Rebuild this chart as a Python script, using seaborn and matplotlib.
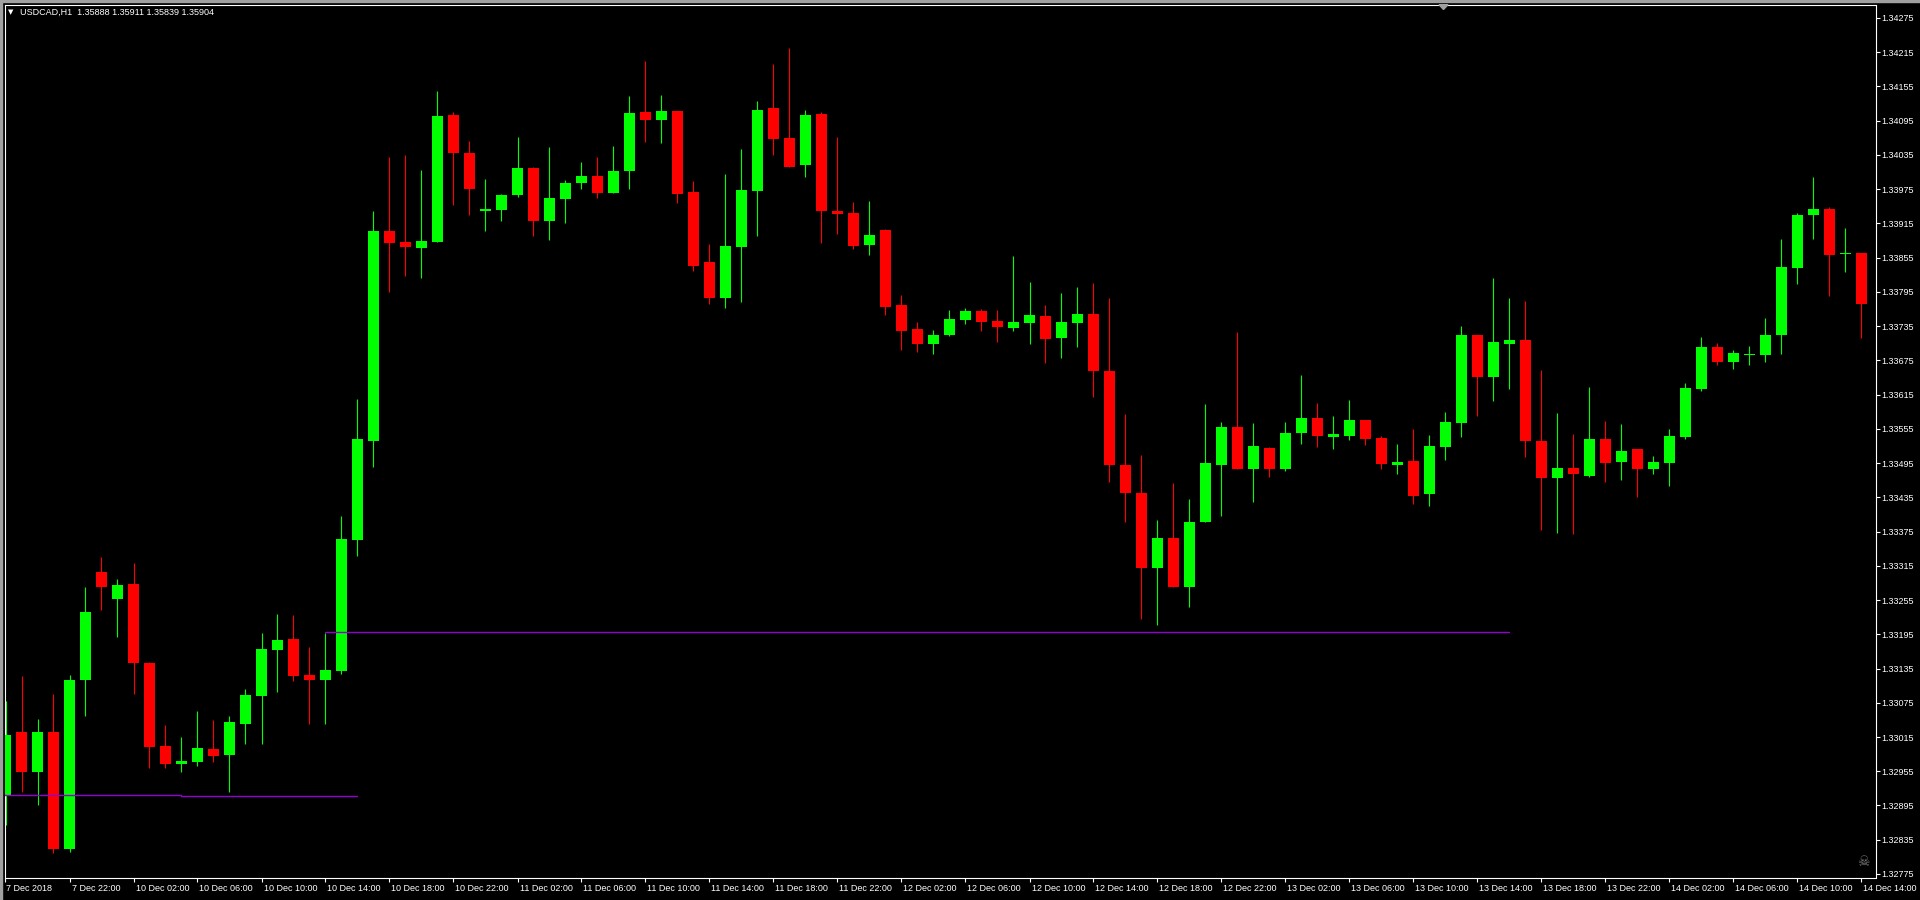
import numpy as np
import pandas as pd
import matplotlib
matplotlib.use("Agg")
import matplotlib.pyplot as plt
import matplotlib.transforms as mtransforms
from matplotlib.patches import Rectangle, Polygon
import seaborn as sns

# USDCAD H1 candles, one per hour from 7 Dec 18:00 to 14 Dec 14:00
opens = [
    1.32913, 1.33024, 1.32953, 1.33024, 1.32818, 1.33115, 1.33304, 1.33257, 1.33283, 1.33145,
    1.32999, 1.32968, 1.32972, 1.32994, 1.32984, 1.33038, 1.33086, 1.33168, 1.33187, 1.33124,
    1.33115, 1.33130, 1.33360, 1.33534, 1.33902, 1.33883, 1.33872, 1.33883, 1.34105, 1.34038,
    1.33937, 1.33939, 1.33965, 1.34012, 1.33920, 1.33958, 1.33985, 1.33998, 1.33969, 1.34006,
    1.34110, 1.34097, 1.34112, 1.33970, 1.33847, 1.33785, 1.33874, 1.33972, 1.34117, 1.34065,
    1.34017, 1.34107, 1.33937, 1.33933, 1.33877, 1.33903, 1.33772, 1.33730, 1.33704, 1.33720,
    1.33745, 1.33761, 1.33744, 1.33732, 1.33741, 1.33753, 1.33715, 1.33741, 1.33756, 1.33656,
    1.33491, 1.33443, 1.33312, 1.33364, 1.33278, 1.33391, 1.33492, 1.33558, 1.33485, 1.33521,
    1.33484, 1.33547, 1.33574, 1.33540, 1.33543, 1.33571, 1.33539, 1.33491, 1.33499, 1.33440,
    1.33524, 1.33566, 1.33720, 1.33645, 1.33704, 1.33711, 1.33534, 1.33468, 1.33486, 1.33473,
    1.33537, 1.33497, 1.33520, 1.33485, 1.33496, 1.33541, 1.33624, 1.33698, 1.33673, 1.33684,
    1.33685, 1.33720, 1.33837, 1.33929, 1.33940, 1.33862, 1.33863,
]
highs = [
    1.33078, 1.33122, 1.33047, 1.33090, 1.33124, 1.33278, 1.33331, 1.33292, 1.33320, 1.33146,
    1.33036, 1.33015, 1.33061, 1.33045, 1.33052, 1.33099, 1.33197, 1.33231, 1.33229, 1.33173,
    1.33197, 1.33402, 1.33607, 1.33937, 1.34031, 1.34035, 1.34009, 1.34147, 1.34110, 1.34059,
    1.33993, 1.33967, 1.34066, 1.34014, 1.34049, 1.33991, 1.34023, 1.34031, 1.34051, 1.34138,
    1.34200, 1.34140, 1.34112, 1.33989, 1.33879, 1.34002, 1.34045, 1.34130, 1.34194, 1.34222,
    1.34114, 1.34110, 1.34066, 1.33953, 1.33954, 1.33905, 1.33790, 1.33742, 1.33728, 1.33763,
    1.33767, 1.33765, 1.33763, 1.33858, 1.33812, 1.33772, 1.33793, 1.33804, 1.33811, 1.33784,
    1.33581, 1.33509, 1.33395, 1.33460, 1.33432, 1.33599, 1.33567, 1.33725, 1.33565, 1.33523,
    1.33567, 1.33649, 1.33600, 1.33578, 1.33606, 1.33571, 1.33543, 1.33529, 1.33555, 1.33544,
    1.33585, 1.33735, 1.33720, 1.33819, 1.33784, 1.33779, 1.33658, 1.33583, 1.33546, 1.33628,
    1.33569, 1.33564, 1.33520, 1.33508, 1.33555, 1.33635, 1.33716, 1.33706, 1.33693, 1.33700,
    1.33749, 1.33888, 1.33933, 1.33996, 1.33944, 1.33907, 1.33863,
]
lows = [
    1.32861, 1.32919, 1.32896, 1.32811, 1.32814, 1.33051, 1.33238, 1.33191, 1.33091, 1.32960,
    1.32960, 1.32954, 1.32965, 1.32972, 1.32919, 1.33002, 1.33002, 1.33093, 1.33114, 1.33038,
    1.33038, 1.33126, 1.33333, 1.33489, 1.33795, 1.33822, 1.33820, 1.33883, 1.33948, 1.33929,
    1.33902, 1.33920, 1.33962, 1.33893, 1.33886, 1.33916, 1.33976, 1.33960, 1.33969, 1.33976,
    1.34057, 1.34056, 1.33951, 1.33832, 1.33774, 1.33766, 1.33778, 1.33893, 1.34035, 1.34014,
    1.33997, 1.33881, 1.33897, 1.33871, 1.33860, 1.33755, 1.33694, 1.33689, 1.33687, 1.33717,
    1.33738, 1.33727, 1.33708, 1.33727, 1.33704, 1.33671, 1.33680, 1.33699, 1.33610, 1.33461,
    1.33391, 1.33221, 1.33212, 1.33277, 1.33242, 1.33391, 1.33403, 1.33484, 1.33426, 1.33471,
    1.33482, 1.33529, 1.33524, 1.33520, 1.33536, 1.33527, 1.33485, 1.33476, 1.33424, 1.33420,
    1.33501, 1.33540, 1.33578, 1.33604, 1.33625, 1.33506, 1.33378, 1.33373, 1.33370, 1.33471,
    1.33462, 1.33466, 1.33436, 1.33476, 1.33455, 1.33538, 1.33622, 1.33667, 1.33659, 1.33667,
    1.33673, 1.33687, 1.33808, 1.33888, 1.33787, 1.33830, 1.33715,
]
closes = [
    1.33019, 1.32954, 1.33024, 1.32818, 1.33115, 1.33234, 1.33277, 1.33281, 1.33144, 1.32998,
    1.32968, 1.32973, 1.32996, 1.32982, 1.33041, 1.33089, 1.33169, 1.33185, 1.33122, 1.33115,
    1.33133, 1.33362, 1.33537, 1.33902, 1.33881, 1.33874, 1.33884, 1.34103, 1.34039, 1.33976,
    1.33940, 1.33965, 1.34012, 1.33920, 1.33960, 1.33986, 1.33998, 1.33969, 1.34007, 1.34109,
    1.34097, 1.34112, 1.33967, 1.33841, 1.33785, 1.33875, 1.33974, 1.34114, 1.34063, 1.34014,
    1.34105, 1.33936, 1.33932, 1.33876, 1.33895, 1.33769, 1.33727, 1.33704, 1.33720, 1.33748,
    1.33761, 1.33743, 1.33734, 1.33742, 1.33755, 1.33713, 1.33742, 1.33756, 1.33657, 1.33491,
    1.33443, 1.33312, 1.33364, 1.33277, 1.33392, 1.33495, 1.33558, 1.33484, 1.33525, 1.33484,
    1.33548, 1.33574, 1.33543, 1.33546, 1.33571, 1.33538, 1.33494, 1.33497, 1.33438, 1.33525,
    1.33567, 1.33720, 1.33645, 1.33707, 1.33711, 1.33534, 1.33468, 1.33486, 1.33475, 1.33537,
    1.33496, 1.33516, 1.33485, 1.33497, 1.33543, 1.33627, 1.33698, 1.33673, 1.33688, 1.33686,
    1.33720, 1.33839, 1.33930, 1.33940, 1.33860, 1.33863, 1.33773,
]

first_label = "7 Dec 2018"
time_labels = [
    "7 Dec 22:00", "10 Dec 02:00", "10 Dec 06:00", "10 Dec 10:00", "10 Dec 14:00",
    "10 Dec 18:00", "10 Dec 22:00", "11 Dec 02:00", "11 Dec 06:00", "11 Dec 10:00",
    "11 Dec 14:00", "11 Dec 18:00", "11 Dec 22:00", "12 Dec 02:00", "12 Dec 06:00",
    "12 Dec 10:00", "12 Dec 14:00", "12 Dec 18:00", "12 Dec 22:00", "13 Dec 02:00",
    "13 Dec 06:00", "13 Dec 10:00", "13 Dec 14:00", "13 Dec 18:00", "13 Dec 22:00",
    "14 Dec 02:00", "14 Dec 06:00", "14 Dec 10:00", "14 Dec 14:00",
]
price_ticks = [
    1.32775, 1.32835, 1.32895, 1.32955, 1.33015, 1.33075, 1.33135, 1.33195, 1.33255,
    1.33315, 1.33375, 1.33435, 1.33495, 1.33555, 1.33615, 1.33675, 1.33735, 1.33795,
    1.33855, 1.33915, 1.33975, 1.34035, 1.34095, 1.34155, 1.34215, 1.34275,
]
title_text = "USDCAD,H1  1.35888 1.35911 1.35839 1.35904"

# horizontal lines: level, first bar, last bar
line_levels = [1.32913, 1.32911, 1.33199]
line_starts = [-0.1, 11, 20]
line_ends = [11, 22, 94]

sns.set_style("dark", {"axes.facecolor": "black", "figure.facecolor": "black"})
plt.rcParams['font.family'] = ['Liberation Sans', 'DejaVu Sans']

BULL = '#00ff00'
BEAR = '#ff0000'
LINE = '#9400d3'

df = pd.DataFrame({'open': opens, 'high': highs, 'low': lows, 'close': closes})
df['bar'] = np.arange(len(df))
df['color'] = np.where(df['close'] >= df['open'], BULL, BEAR)

W, H = 1920, 900
fig = plt.figure(figsize=(W / 100, H / 100), dpi=100)
ax = fig.add_axes([4.5 / W, 1 - 877.5 / H, (1875.5 - 4.5) / W, (877.5 - 4.5) / H])
ax.set_facecolor('black')

# wicks then bodies
ax.vlines(df['bar'], df['low'], df['high'], colors=df['color'], linewidth=0.8, zorder=2)
body = (df['close'] - df['open']).abs().clip(lower=1.6e-5)
ax.bar(df['bar'], body, bottom=df[['open', 'close']].min(axis=1), width=0.69,
       color=df['color'], linewidth=0, zorder=3)

for lvl, a, b in zip(line_levels, line_starts, line_ends):
    sns.lineplot(x=[a, b], y=[lvl, lvl], color=LINE, linewidth=1.0, ax=ax, zorder=4)

ax.set_xlim(-0.0625, 116.875)
ax.set_ylim(1.327688, 1.342986)
ax.grid(False)
ax.set_xlabel('')
ax.set_ylabel('')

for s in ax.spines.values():
    s.set_visible(True)
    s.set_color('white')
    s.set_linewidth(0.8)

# price scale on the right
ax.yaxis.tick_right()
ax.set_yticks(price_ticks)
ax.set_yticklabels([f'{p:.5f}' for p in price_ticks])
ax.tick_params(axis='y', right=True, left=False, direction='out', length=3, width=0.8,
               color='white', labelcolor='white', labelsize=6.5, pad=1.5)

# time scale
ax.set_xticks([-0.0625] + list(np.arange(4, 117, 4)))
ax.set_xticklabels([first_label] + time_labels, ha='left')
ax.tick_params(axis='x', bottom=True, direction='out', length=3, width=0.8,
               color='white', labelcolor='white', labelsize=6.5, pad=1.5)
offset = mtransforms.ScaledTranslation(2 / 100, 0, fig.dpi_scale_trans)
for lab in ax.get_xticklabels():
    lab.set_transform(lab.get_transform() + offset)

# header
fig.text(8 / W, 1 - 12.5 / H, '▼', fontsize=5, color='white', va='center', family=['DejaVu Sans'])
fig.text(20.5 / W, 1 - 12.5 / H, title_text, fontsize=6.5, color='white', va='center')

# window borders and small markers
fig.add_artist(Rectangle((0, 1 - 2 / H), 1, 2 / H, transform=fig.transFigure, color='#a0a0a0'))
fig.add_artist(Rectangle((0, 0), 2 / W, 1, transform=fig.transFigure, color='#a0a0a0'))
fig.add_artist(Polygon([[1439 / W, 1 - 4.7 / H], [1448 / W, 1 - 4.7 / H], [1443.5 / W, 1 - 9.5 / H]],
                       closed=True, transform=fig.transFigure, color='#a0a0a0'))
fig.text(1863 / W, 1 - 862 / H, '☠', fontsize=10, color='#7a7a7a', ha='center', va='center',
         family=['DejaVu Sans'])

fig.savefig('out.png', dpi=100, facecolor='black')
